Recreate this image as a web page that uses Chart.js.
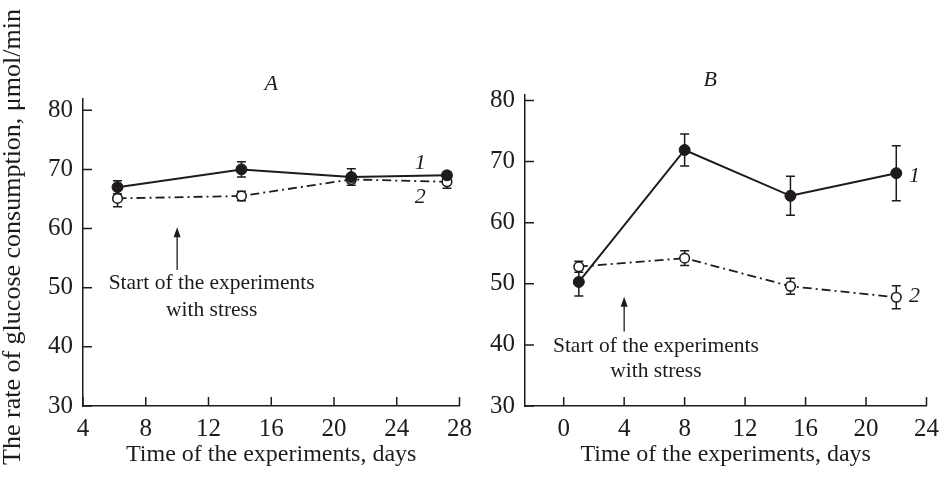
<!DOCTYPE html>
<html>
<head>
<meta charset="utf-8">
<script src="https://cdn.jsdelivr.net/npm/chart.js@4/dist/chart.umd.min.js"></script>
<style>
  body { margin: 0; background: #fff; }
  #wrap { position: relative; width: 947px; height: 494px; }
  canvas { position: absolute; top: 0; }
  #chartA { left: 0; }
  #chartB { left: 470px; }
</style>
</head>
<body>
<div id="wrap">
  <canvas id="chartA" width="480" height="494"></canvas>
  <canvas id="chartB" width="477" height="494"></canvas>
</div>
<script>
/* ---------- Data ---------- */
const yTicks = [30, 40, 50, 60, 70, 80];

// panel A
const daysA = [6.2, 14.1, 21.1, 27.2];
const seriesA1 = [67.0, 70.0, 68.7, 69.0];
const errA1 = [1.1, 1.3, 1.4, 0.6];
const seriesA2 = [65.1, 65.5, 68.3, 67.9];
const errA2 = [1.4, 0.8, 0.5, 1.1];
const xTicksA = [4, 8, 12, 16, 20, 24, 28];

// panel B
const daysB = [1, 8, 15, 22];
const seriesB1 = [50.3, 71.9, 64.4, 68.1];
const errB1 = [2.3, 2.6, 3.2, 4.5];
const seriesB2 = [52.8, 54.2, 49.6, 47.8];
const errB2 = [0.9, 1.2, 1.3, 1.9];
const xTicksB = [0, 4, 8, 12, 16, 20, 24];

const INK = "#1f1b1c";
const SERIF = "'Liberation Serif', 'Times New Roman', serif";

/* ---------- Helpers ---------- */
function toPoints(xs, ys) {
    return xs.map((x, i) => ({ x: x, y: ys[i] }));
}

function makeDatasets(days, s1, s2) {
    return [
        {
            data: toPoints(days, s1),
            borderColor: INK,
            borderWidth: 2,
            pointRadius: 5.5,
            pointBackgroundColor: INK,
            pointBorderColor: INK,
            pointBorderWidth: 1,
            tension: 0
        },
        {
            data: toPoints(days, s2),
            borderColor: INK,
            borderWidth: 1.8,
            borderDash: [9, 4, 2, 4],
            pointRadius: 4.8,
            pointBackgroundColor: "#fff",
            pointBorderColor: INK,
            pointBorderWidth: 1.6,
            tension: 0
        }
    ];
}

/* ---------- Decorations plugin ---------- */
const decorPlugin = {
    id: "decor",
    beforeDatasetsDraw(chart, args, opts) {
        const ctx = chart.ctx;
        const xs = chart.scales.x, ys = chart.scales.y;
        ctx.save();
        ctx.strokeStyle = INK;
        ctx.lineWidth = 1.5;
        opts.errors.forEach((errs, di) => {
            const pts = chart.data.datasets[di].data;
            pts.forEach((p, i) => {
                const px = xs.getPixelForValue(p.x);
                const top = ys.getPixelForValue(p.y + errs[i]);
                const bot = ys.getPixelForValue(p.y - errs[i]);
                ctx.beginPath();
                ctx.moveTo(px, top); ctx.lineTo(px, bot);
                ctx.moveTo(px - 4.5, top); ctx.lineTo(px + 4.5, top);
                ctx.moveTo(px - 4.5, bot); ctx.lineTo(px + 4.5, bot);
                ctx.stroke();
            });
        });
        ctx.restore();
    },
    afterDraw(chart, args, opts) {
        const ctx = chart.ctx;
        const xs = chart.scales.x, ys = chart.scales.y;
        const area = chart.chartArea;
        ctx.save();
        ctx.strokeStyle = INK;
        ctx.fillStyle = INK;
        ctx.lineWidth = 1.5;

        // inward tick marks
        ctx.beginPath();
        opts.xTicks.forEach(v => {
            const px = xs.getPixelForValue(v);
            ctx.moveTo(px, area.bottom); ctx.lineTo(px, area.bottom - 9);
        });
        yTicks.forEach(v => {
            const py = ys.getPixelForValue(v);
            ctx.moveTo(area.left, py); ctx.lineTo(area.left + 9, py);
        });
        ctx.stroke();

        // panel letter
        ctx.font = "italic 22px " + SERIF;
        ctx.textAlign = "center";
        ctx.textBaseline = "middle";
        ctx.fillText(opts.letter.text, xs.getPixelForValue(opts.letter.x), area.top - 15);

        // curve numbers
        ctx.font = "italic 22px " + SERIF;
        opts.numbers.forEach(n => {
            ctx.fillText(n.text, xs.getPixelForValue(n.x), ys.getPixelForValue(n.y));
        });

        // arrow
        const ax = xs.getPixelForValue(opts.arrow.x);
        const ay0 = ys.getPixelForValue(opts.arrow.from);
        const ay1 = ys.getPixelForValue(opts.arrow.to);
        ctx.lineWidth = 1.3;
        ctx.beginPath();
        ctx.moveTo(ax, ay0); ctx.lineTo(ax, ay1 + 6);
        ctx.stroke();
        ctx.beginPath();
        ctx.moveTo(ax, ay1);
        ctx.lineTo(ax - 3.5, ay1 + 10);
        ctx.lineTo(ax + 3.5, ay1 + 10);
        ctx.closePath();
        ctx.fill();

        // note text
        ctx.font = "21.5px " + SERIF;
        opts.note.forEach(t => {
            ctx.fillText(t.text, xs.getPixelForValue(t.x), ys.getPixelForValue(t.y));
        });

        // shared y axis title (left panel only)
        if (opts.yTitle) {
            ctx.font = "26px " + SERIF;
            ctx.translate(13, 237);
            ctx.rotate(-Math.PI / 2);
            ctx.fillText(opts.yTitle, 0, 0);
        }
        ctx.restore();
    }
};

/* ---------- Chart builder ---------- */
function buildChart(id, cfg) {
    const ctx = document.getElementById(id).getContext("2d");
    return new Chart(ctx, {
        type: "line",
        data: { datasets: makeDatasets(cfg.days, cfg.s1, cfg.s2) },
        plugins: [decorPlugin],
        options: {
            responsive: false,
            animation: false,
            devicePixelRatio: 1,
            layout: { padding: { top: cfg.top, right: cfg.right, left: 0, bottom: 0 } },
            plugins: {
                legend: { display: false },
                tooltip: { enabled: false },
                decor: {
                    errors: cfg.errors,
                    xTicks: cfg.xTicks,
                    letter: cfg.letter,
                    numbers: cfg.numbers,
                    arrow: cfg.arrow,
                    note: cfg.note,
                    yTitle: cfg.yTitle
                }
            },
            scales: {
                x: {
                    type: "linear",
                    min: cfg.xMin,
                    max: cfg.xMax,
                    afterBuildTicks: s => { s.ticks = cfg.xTicks.map(v => ({ value: v })); },
                    afterFit: s => { s.height = 88; },
                    grid: { display: false, drawTicks: false, tickLength: 0 },
                    border: { display: true, color: INK, width: 1.5 },
                    ticks: { color: INK, font: { family: SERIF, size: 25 }, padding: 8, maxRotation: 0 },
                    title: {
                        display: true,
                        text: "Time of the experiments, days",
                        color: INK,
                        font: { family: SERIF, size: 24 },
                        padding: { top: 0, bottom: 25 }
                    }
                },
                y: {
                    type: "linear",
                    min: 30,
                    max: cfg.yMax,
                    afterBuildTicks: s => { s.ticks = yTicks.map(v => ({ value: v })); },
                    afterFit: s => { s.width = cfg.yWidth; },
                    grid: { display: false, drawTicks: false, tickLength: 0 },
                    border: { display: true, color: INK, width: 1.5 },
                    ticks: { color: INK, font: { family: SERIF, size: 25 }, padding: 10 }
                }
            }
        }
    });
}

/* ---------- Init ---------- */
buildChart("chartA", {
    days: daysA, s1: seriesA1, s2: seriesA2, errors: [errA1, errA2],
    xMin: 4, xMax: 28, xTicks: xTicksA, yMax: 81.9,
    top: 99, right: 19, yWidth: 83,
    letter: { text: "A", x: 16 },
    numbers: [{ text: "1", x: 25.5, y: 71.0 }, { text: "2", x: 25.5, y: 65.3 }],
    arrow: { x: 10, from: 53.0, to: 60.2 },
    note: [{ text: "Start of the experiments", x: 12.2, y: 50.8 },
           { text: "with stress", x: 12.2, y: 46.2 }],
    yTitle: "The rate of glucose consumption, \u03bcmol/min"
});

buildChart("chartB", {
    days: daysB, s1: seriesB1, s2: seriesB2, errors: [errB1, errB2],
    xMin: -2.56, xMax: 24, xTicks: xTicksB, yMax: 80.9,
    top: 95, right: 15, yWidth: 55,
    letter: { text: "B", x: 9.7 },
    numbers: [{ text: "1", x: 23.2, y: 67.6 }, { text: "2", x: 23.2, y: 47.9 }],
    arrow: { x: 4, from: 42.2, to: 47.9 },
    note: [{ text: "Start of the experiments", x: 6.1, y: 39.7 },
           { text: "with stress", x: 6.1, y: 35.6 }],
    yTitle: null
});
</script>
</body>
</html>
